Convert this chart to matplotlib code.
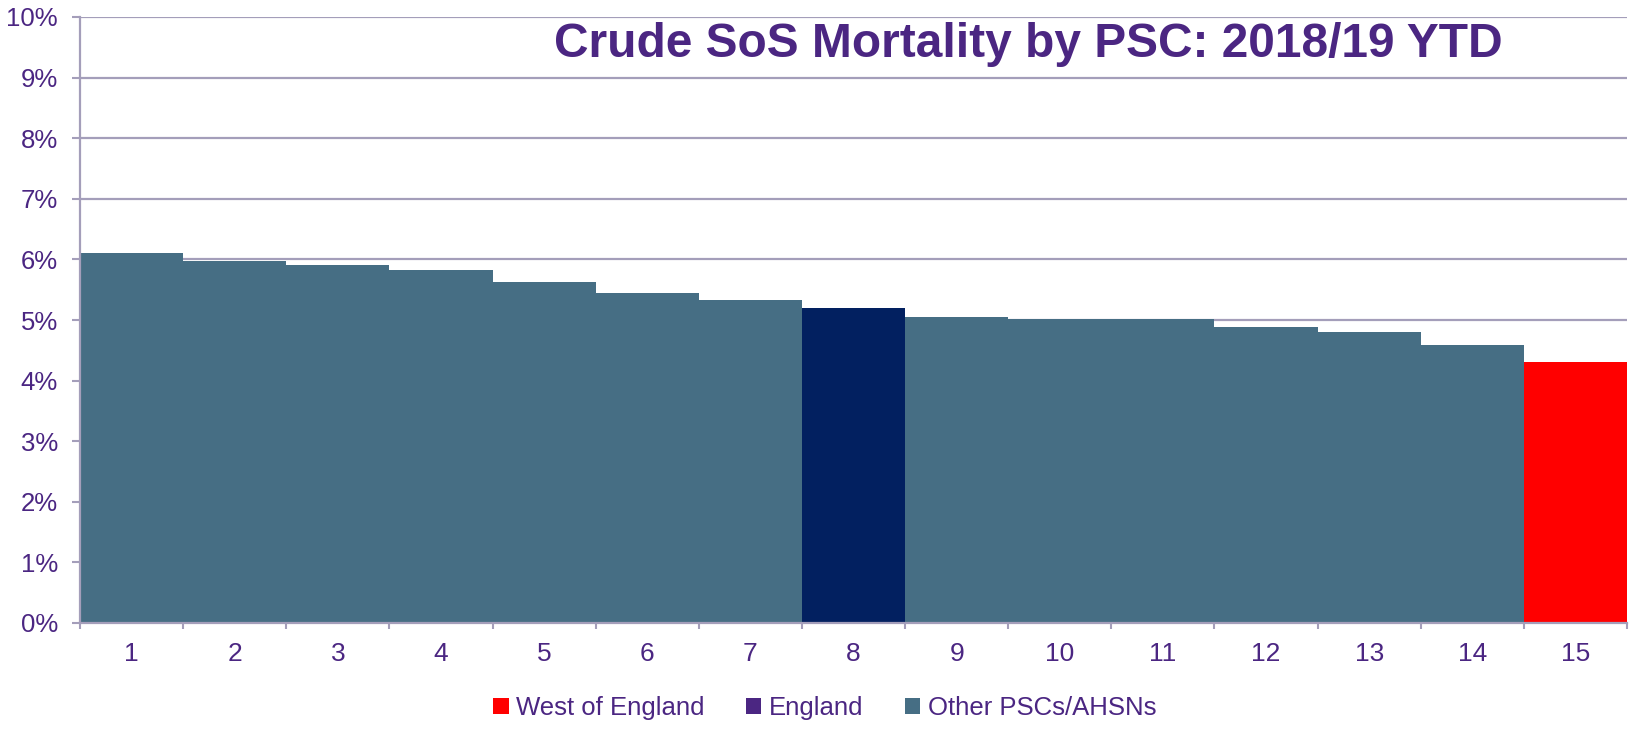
import matplotlib.pyplot as plt
from matplotlib.patches import Patch
from matplotlib.ticker import FuncFormatter, MultipleLocator

# data (% crude mortality)
psc = list(range(1, 16))
mortality = [6.10, 5.97, 5.90, 5.83, 5.62, 5.45, 5.33, 5.20,
             5.05, 5.02, 5.02, 4.88, 4.80, 4.59, 4.31]
group = ["other"] * 7 + ["england"] + ["other"] * 6 + ["west"]

bar_colors = {"other": "#466E84", "england": "#022060", "west": "#FF0000"}
legend_colors = {"west": "#FF0000", "england": "#4B2682", "other": "#466E84"}
legend_labels = {"west": "West of England", "england": "England", "other": "Other PSCs/AHSNs"}

text_col = "#4B2682"
grid_col = "#A49EBA"

plt.rcParams['font.family'] = ['Liberation Sans', 'DejaVu Sans']

fig = plt.figure(figsize=(16.33, 7.30), dpi=100)
ax = fig.add_axes([80 / 1633, 107 / 730, (1627 - 80) / 1633, (623 - 17) / 730])

ax.bar(psc, mortality, width=1.0, color=[bar_colors[g] for g in group],
       linewidth=0, zorder=2)

ax.set_xlim(0.5, 15.5)
ax.set_ylim(0, 10)
ax.yaxis.set_major_locator(MultipleLocator(1))
ax.yaxis.set_major_formatter(FuncFormatter(lambda v, p: f"{v:.0f}%"))
ax.grid(axis='y', color=grid_col, linewidth=1.6, zorder=1)
ax.set_axisbelow(True)

ax.set_xticks(psc)
ax.set_xticklabels([str(p) for p in psc])
ax.set_xticks([p + 0.5 for p in range(0, 16)], minor=True)
ax.tick_params(axis='x', which='major', length=0, pad=14, labelsize=19, labelcolor=text_col)
ax.tick_params(axis='x', which='minor', length=4.5, width=1.5, color=grid_col)
ax.tick_params(axis='y', length=6, width=1.5, color=grid_col, labelsize=18.5,
               labelcolor=text_col, pad=10)

for side in ['top', 'right']:
    ax.spines[side].set_visible(False)
for side in ['left', 'bottom']:
    ax.spines[side].set_color(grid_col)
    ax.spines[side].set_linewidth(1.6)

ax.text(0.613, 0.934, "Crude SoS Mortality by PSC: 2018/19 YTD", transform=ax.transAxes,
        ha='center', va='baseline', fontsize=34.5, fontweight='bold', color=text_col)

handles = [Patch(facecolor=legend_colors[k], edgecolor='none', label=legend_labels[k])
           for k in ["west", "england", "other"]]
fig.legend(handles=handles, loc='center', bbox_to_anchor=(0.505, 0.03), ncol=3,
           frameon=False, fontsize=18.5, labelcolor=text_col, handlelength=0.6,
           handleheight=0.6, handletextpad=0.3, columnspacing=1.6)

fig.savefig("out.png", dpi=100)
